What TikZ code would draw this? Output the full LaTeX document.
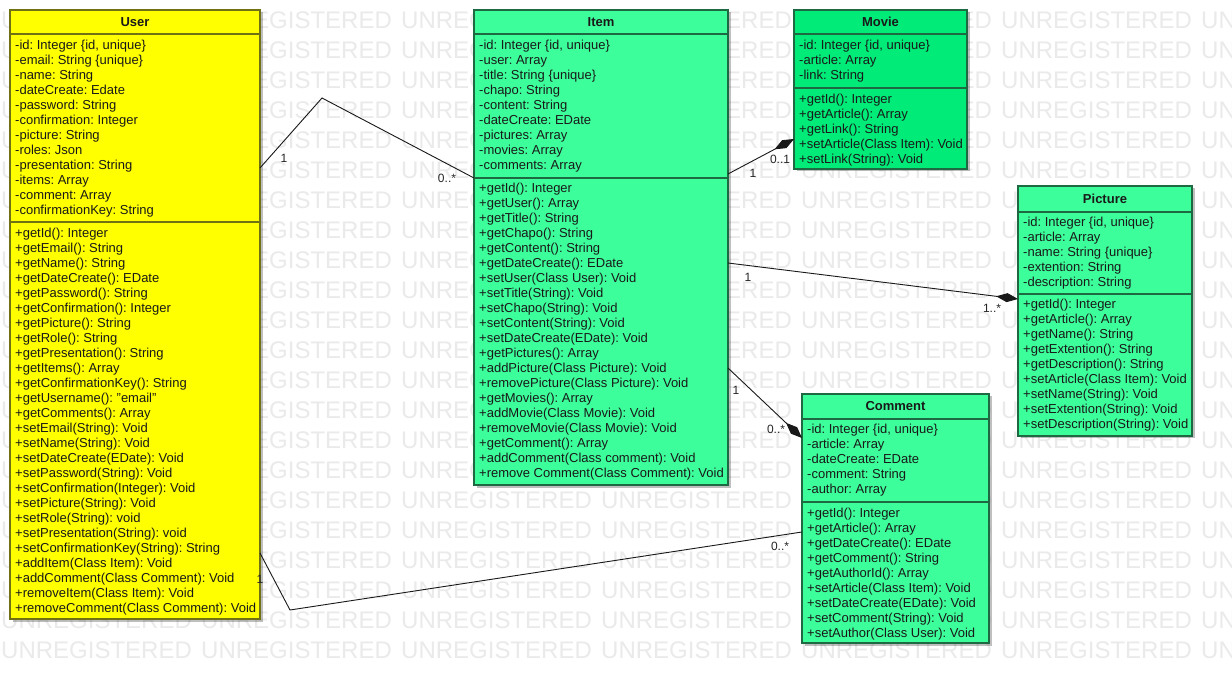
\documentclass[tikz,border=0pt]{standalone}
\usepackage{fontspec}
\setmainfont{Liberation Sans}
\usetikzlibrary{arrows.meta,shadows}
\definecolor{userfill}{RGB}{255,255,0}
\definecolor{userline}{RGB}{112,112,20}
\definecolor{greenfill}{RGB}{60,255,155}
\definecolor{moviefill}{RGB}{0,235,120}
\definecolor{greenline}{RGB}{30,105,65}
\definecolor{wmgray}{RGB}{234,234,234}
\frenchspacing
\newcommand\mlines[1]{\begin{tabular}[t]{@{}l@{}}#1\end{tabular}}
\tikzset{
 classbox/.style={draw, line width=1.2pt, anchor=north west, inner sep=0pt, outer sep=0pt,
   drop shadow={shadow xshift=2.5pt, shadow yshift=-2.5pt, fill=black, opacity=0.25}},
 usercls/.style={classbox, fill=userfill, draw=userline},
 itemcls/.style={classbox, fill=greenfill, draw=greenline},
 moviecls/.style={classbox, fill=moviefill, draw=greenline},
 usersep/.style={line width=1.2pt, draw=userline},
 greensep/.style={line width=1.2pt, draw=greenline},
 ctitle/.style={anchor=base, inner sep=0pt, font=\fontsize{13}{15}\selectfont\bfseries, text=black!90},
 members/.style={anchor=base west, inner sep=0pt, font=\fontsize{13}{15}\selectfont\frenchspacing, text=black!90},
 assoc/.style={line width=0.9pt, draw=black!90},
 comp/.style={assoc, -{Diamond[length=22pt,width=9pt]}},
 mult/.style={inner sep=0pt, font=\fontsize{12}{14}\selectfont, text=black!85},
 wm/.style={anchor=west, inner sep=0pt, font=\fontsize{24}{28}\selectfont, text=wmgray},
}
\begin{document}
\begin{tikzpicture}[x=1pt,y=-1pt]
\useasboundingbox (0,0) rectangle (1232,684);
\fill[white] (0,0) rectangle (1232,684);
% watermark
\foreach \r in {0,...,21}{
  \foreach \c in {0,...,6}{
    \node[wm] (wm-\r-\c) at (\c*200+1, 20+\r*30) {UNREGISTERED};
  }
}
% ---------------- User
\node[usercls, minimum width=250pt, minimum height=609pt] (user) at (10,10) {};
\draw[usersep] (user.west |- 0,34) -- (user.east |- 0,34);
\draw[usersep] (user.west |- 0,222) -- (user.east |- 0,222);
\node[ctitle] (user-title) at (135,27) {User};
\node[members] (user-attrs) at (15,50) {\mlines{%
-id: Integer \{id, unique\}\\
-email: String \{unique\}\\
-name: String\\
-dateCreate: Edate\\
-password: String\\
-confirmation: Integer\\
-picture: String\\
-roles: Json\\
-presentation: String\\
-items: Array\\
-comment: Array\\
-confirmationKey: String}};
\node[members] (user-methods) at (15,238) {\mlines{%
+getId(): Integer\\
+getEmail(): String\\
+getName(): String\\
+getDateCreate(): EDate\\
+getPassword(): String\\
+getConfirmation(): Integer\\
+getPicture(): String\\
+getRole(): String\\
+getPresentation(): String\\
+getItems(): Array\\
+getConfirmationKey(): String\\
+getUsername(): "email"\\
+getComments(): Array\\
+setEmail(String): Void\\
+setName(String): Void\\
+setDateCreate(EDate): Void\\
+setPassword(String): Void\\
+setConfirmation(Integer): Void\\
+setPicture(String): Void\\
+setRole(String): void\\
+setPresentation(String): void\\
+setConfirmationKey(String): String\\
+addItem(Class Item): Void\\
+addComment(Class Comment): Void\\
+removeItem(Class Item): Void\\
+removeComment(Class Comment): Void}};
% ---------------- Item
\node[itemcls, minimum width=254pt, minimum height=475pt] (item) at (474,10) {};
\draw[greensep] (item.west |- 0,34) -- (item.east |- 0,34);
\draw[greensep] (item.west |- 0,178) -- (item.east |- 0,178);
\node[ctitle] (item-title) at (601,27) {Item};
\node[members] (item-attrs) at (479,50) {\mlines{%
-id: Integer \{id, unique\}\\
-user: Array\\
-title: String \{unique\}\\
-chapo: String\\
-content: String\\
-dateCreate: EDate\\
-pictures: Array\\
-movies: Array\\
-comments: Array}};
\node[members] (item-methods) at (479,193) {\mlines{%
+getId(): Integer\\
+getUser(): Array\\
+getTitle(): String\\
+getChapo(): String\\
+getContent(): String\\
+getDateCreate(): EDate\\
+setUser(Class User): Void\\
+setTitle(String): Void\\
+setChapo(String): Void\\
+setContent(String): Void\\
+setDateCreate(EDate): Void\\
+getPictures(): Array\\
+addPicture(Class Picture): Void\\
+removePicture(Class Picture): Void\\
+getMovies(): Array\\
+addMovie(Class Movie): Void\\
+removeMovie(Class Movie): Void\\
+getComment(): Array\\
+addComment(Class comment): Void\\
+remove Comment(Class Comment): Void}};
% ---------------- Movie
\node[moviecls, minimum width=173pt, minimum height=159pt] (movie) at (794,10) {};
\draw[greensep] (movie.west |- 0,34) -- (movie.east |- 0,34);
\draw[greensep] (movie.west |- 0,88) -- (movie.east |- 0,88);
\node[ctitle] (movie-title) at (880.5,27) {Movie};
\node[members] (movie-attrs) at (799,50) {\mlines{%
-id: Integer \{id, unique\}\\
-article: Array\\
-link: String}};
\node[members] (movie-methods) at (799,104) {\mlines{%
+getId(): Integer\\
+getArticle(): Array\\
+getLink(): String\\
+setArticle(Class Item): Void\\
+setLink(String): Void}};
% ---------------- Picture
\node[itemcls, minimum width=174pt, minimum height=250pt] (picture) at (1018,186) {};
\draw[greensep] (picture.west |- 0,212) -- (picture.east |- 0,212);
\draw[greensep] (picture.west |- 0,294) -- (picture.east |- 0,294);
\node[ctitle] (picture-title) at (1105,204) {Picture};
\node[members] (picture-attrs) at (1023,227) {\mlines{%
-id: Integer \{id, unique\}\\
-article: Array\\
-name: String \{unique\}\\
-extention: String\\
-description: String}};
\node[members] (picture-methods) at (1023,309) {\mlines{%
+getId(): Integer\\
+getArticle(): Array\\
+getName(): String\\
+getExtention(): String\\
+getDescription(): String\\
+setArticle(Class Item): Void\\
+setName(String): Void\\
+setExtention(String): Void\\
+setDescription(String): Void}};
% ---------------- Comment
\node[itemcls, minimum width=187pt, minimum height=249pt] (comment) at (802,394) {};
\draw[greensep] (comment.west |- 0,419) -- (comment.east |- 0,419);
\draw[greensep] (comment.west |- 0,502) -- (comment.east |- 0,502);
\node[ctitle] (comment-title) at (895.5,411) {Comment};
\node[members] (comment-attrs) at (807,434) {\mlines{%
-id: Integer \{id, unique\}\\
-article: Array\\
-dateCreate: EDate\\
-comment: String\\
-author: Array}};
\node[members] (comment-methods) at (807,517) {\mlines{%
+getId(): Integer\\
+getArticle(): Array\\
+getDateCreate(): EDate\\
+getComment(): String\\
+getAuthorId(): Array\\
+setArticle(Class Item): Void\\
+setDateCreate(EDate): Void\\
+setComment(String): Void\\
+setAuthor(Class User): Void}};
% ---------------- connectors
\coordinate (ui-a) at (260,168);
\coordinate (ui-b) at (322,98);
\coordinate (ui-c) at (474,178);
\draw[assoc] (ui-a) -- (ui-b) -- (ui-c);
\node[mult] (ui-m1) at (284,158) {1};
\node[mult] (ui-m2) at (447,178) {0..*};

\coordinate (im-a) at (728,174);
\coordinate (im-b) at (794,139);
\draw[comp] (im-a) -- (im-b);
\node[mult] (im-m1) at (753,173) {1};
\node[mult] (im-m2) at (780,159) {0..1};

\coordinate (ip-a) at (728,263);
\coordinate (ip-b) at (1018,299);
\draw[comp] (ip-a) -- (ip-b);
\node[mult] (ip-m1) at (748,277) {1};
\node[mult] (ip-m2) at (992,308) {1..*};

\coordinate (ic-a) at (728,368);
\coordinate (ic-b) at (802,438);
\draw[comp] (ic-a) -- (ic-b);
\node[mult] (ic-m1) at (736,390) {1};
\node[mult] (ic-m2) at (776,429) {0..*};

\coordinate (uc-a) at (260,553);
\coordinate (uc-b) at (290,610);
\coordinate (uc-c) at (802,532);
\draw[assoc] (uc-a) -- (uc-b) -- (uc-c);
\node[mult] (uc-m1) at (260,579) {1};
\node[mult] (uc-m2) at (780,546) {0..*};
\end{tikzpicture}
\end{document}
